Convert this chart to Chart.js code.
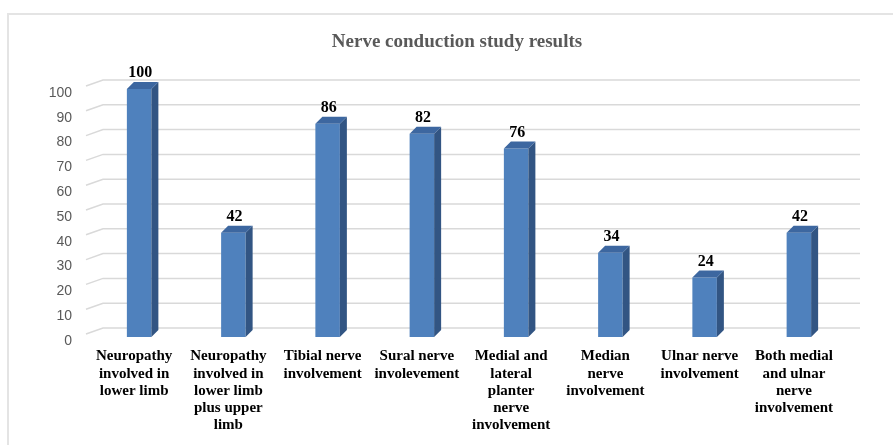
<!DOCTYPE html>
<html>
<head>
<meta charset="utf-8">
<title>Nerve conduction study results</title>
<script src="https://cdn.jsdelivr.net/npm/chart.js@4.4.1/dist/chart.umd.min.js"></script>
<style>
  html, body { margin: 0; padding: 0; background: #fff; }
  #wrap { position: relative; width: 893px; height: 445px; }
</style>
</head>
<body>
<div id="wrap"><canvas id="nerve-chart" width="893" height="445"></canvas></div>
<script>
// ===== data =====
const chartTitle = 'Nerve conduction study results';

const categories = [
    ['Neuropathy', 'involved in', 'lower limb'],
    ['Neuropathy', 'involved in', 'lower limb', 'plus upper', 'limb'],
    ['Tibial nerve', 'involvement'],
    ['Sural nerve', 'involevement'],
    ['Medial and', 'lateral', 'planter', 'nerve', 'involvement'],
    ['Median', 'nerve', 'involvement'],
    ['Ulnar nerve', 'involvement'],
    ['Both medial', 'and ulnar', 'nerve', 'involvement']
];

const patientCounts = [100, 42, 86, 82, 76, 34, 24, 42];

const yTickMin = 0;
const yTickMax = 100;
const yTickStep = 10;

// 3D look (Excel style column)
const DEPTH = 7;          // bar side/top depth
const FLOOR_DX = 17;      // grid plane shift to the right
const FLOOR_DY = 9;       // grid plane shift upwards
const FRONT = '#4f81bd';
const SIDE = '#325583';
const TOP = '#3d67a0';

/**
 * back wall gridlines + floor diagonals, 3D faces, labels
 */
const gridPlane = {
    id: 'gridPlane',
    beforeDraw(chart) {
        const c = chart.ctx;
        // outer frame of the figure
        c.save();
        c.strokeStyle = '#e4e4e4';
        c.lineWidth = 2;
        c.beginPath();
        c.moveTo(8, 445);
        c.lineTo(8, 14);
        c.lineTo(893, 14);
        c.stroke();
        c.restore();
    },
    beforeDatasetsDraw(chart) {
        const c = chart.ctx;
        const y = chart.scales.y;
        const area = chart.chartArea;
        const xLeftFront = area.left - 6;
        const xLeftBack = xLeftFront + FLOOR_DX;
        const xRightBack = area.right + 14;
        c.save();
        c.strokeStyle = '#d9d9d9';
        c.lineWidth = 1.5;
        for (let v = yTickMin; v <= yTickMax; v += yTickStep) {
            const yb = y.getPixelForValue(v) - FLOOR_DY;
            c.beginPath();
            c.moveTo(xLeftFront, yb + 6);
            c.lineTo(xLeftBack, yb);
            c.lineTo(xRightBack, yb);
            c.stroke();
        }
        c.restore();
    },
    afterDatasetsDraw(chart) {
        const c = chart.ctx;
        const meta = chart.getDatasetMeta(0);
        c.save();
        meta.data.forEach((bar, i) => {
            const p = bar.getProps(['x', 'y', 'base', 'width'], true);
            const xl = p.x - p.width / 2;
            const xr = p.x + p.width / 2;
            // side face
            c.fillStyle = SIDE;
            c.beginPath();
            c.moveTo(xr, p.y);
            c.lineTo(xr + DEPTH, p.y - DEPTH);
            c.lineTo(xr + DEPTH, p.base - DEPTH);
            c.lineTo(xr, p.base);
            c.closePath();
            c.fill();
            // top face
            c.fillStyle = TOP;
            c.beginPath();
            c.moveTo(xl, p.y);
            c.lineTo(xl + DEPTH, p.y - DEPTH);
            c.lineTo(xr + DEPTH, p.y - DEPTH);
            c.lineTo(xr, p.y);
            c.closePath();
            c.fill();
            // value label
            c.fillStyle = '#000';
            c.font = 'bold 16px "Liberation Serif", "Times New Roman", serif';
            c.textAlign = 'center';
            c.textBaseline = 'middle';
            c.fillText(String(patientCounts[i]), p.x + 1, p.y - 16);
        });
        c.restore();
    },
    afterDraw(chart) {
        const c = chart.ctx;
        c.save();
        c.fillStyle = '#595959';
        c.font = 'bold 19px "Liberation Serif", "Times New Roman", serif';
        c.textAlign = 'center';
        c.textBaseline = 'middle';
        c.fillText(chartTitle, 457, 42);
        c.restore();
    }
};

function initNerveChart() {
    const ctx = document.getElementById('nerve-chart');
    if (!ctx) return;

    new Chart(ctx, {
        type: 'bar',
        data: {
            labels: categories,
            datasets: [
                {
                    label: 'Patients',
                    data: patientCounts,
                    backgroundColor: FRONT,
                    borderWidth: 0,
                    barPercentage: 0.26,
                    categoryPercentage: 1
                }
            ]
        },
        options: {
            responsive: false,
            animation: false,
            layout: { padding: { left: 0, right: 47, top: 89, bottom: 0 } },
            plugins: {
                legend: { display: false },
                title: { display: false },
                tooltip: { enabled: false }
            },
            scales: {
                y: {
                    min: yTickMin,
                    max: yTickMax,
                    afterFit(scale) { scale.width = 92; },
                    ticks: {
                        stepSize: yTickStep,
                        color: '#595959',
                        padding: 20,
                        labelOffset: 4,
                        font: { family: '"Liberation Sans", Arial, sans-serif', size: 14 }
                    },
                    grid: { display: false, drawTicks: false },
                    border: { display: false }
                },
                x: {
                    afterFit(scale) { scale.height = 108; },
                    ticks: {
                        color: '#000',
                        padding: 11,
                        labelOffset: -5,
                        maxRotation: 0,
                        minRotation: 0,
                        autoSkip: false,
                        font: {
                            family: '"Liberation Serif", "Times New Roman", serif',
                            size: 15,
                            weight: 'bold',
                            lineHeight: 1.14
                        }
                    },
                    grid: { display: false, drawTicks: false },
                    border: { display: false }
                }
            }
        },
        plugins: [gridPlane]
    });
}

initNerveChart();
</script>
</body>
</html>
